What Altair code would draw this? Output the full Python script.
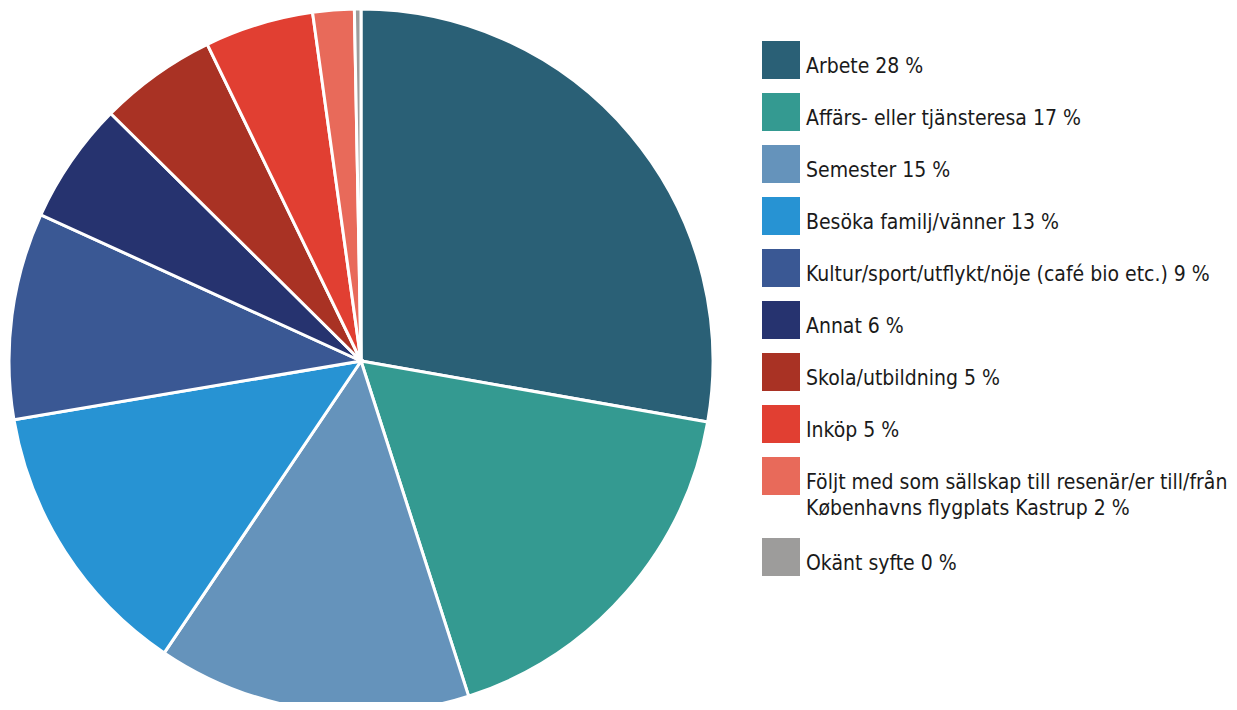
import altair as alt
import pandas as pd

categories = [
    "Arbete",
    "Affärs- eller tjänsteresa",
    "Semester",
    "Besöka familj/vänner",
    "Kultur/sport/utflykt/nöje (café bio etc.)",
    "Annat",
    "Skola/utbildning",
    "Inköp",
    "Följt med som sällskap till resenär/er till/från Københavns flygplats Kastrup",
    "Okänt syfte",
]
shares = [27.8, 17.3, 14.4, 12.9, 9.5, 5.6, 5.4, 5.0, 1.9, 0.3]
legend_labels = [
    "Arbete 28 %",
    "Affärs- eller tjänsteresa 17 %",
    "Semester 15 %",
    "Besöka familj/vänner 13 %",
    "Kultur/sport/utflykt/nöje (café bio etc.) 9 %",
    "Annat 6 %",
    "Skola/utbildning 5 %",
    "Inköp 5 %",
    "Följt med som sällskap till resenär/er till/från\nKøbenhavns flygplats Kastrup 2 %",
    "Okänt syfte 0 %",
]
colors = [
    "#2a6076", "#349a91", "#6593bb", "#2793d3", "#3a5894",
    "#26336f", "#a93224", "#e13f32", "#e86a5a", "#9d9c9b",
]

FONT = "DejaVu Sans Condensed, sans-serif"

# layout of legend rows (pixels within legend panel)
ROW = 52
EXTRA_LINE = 29
rows = []
extra = 0
for i, (cat, lab) in enumerate(zip(categories, legend_labels)):
    top = 33 + ROW * i + EXTRA_LINE * extra
    rows.append({"cat": cat, "label": lab, "order": i, "share": shares[i],
                 "sq": top + 19, "base": top + 32})
    extra += lab.count("\n")
df = pd.DataFrame(rows)

H = 694
color_scale = alt.Scale(domain=categories, range=colors)

pie = alt.Chart(df).mark_arc(outerRadius=352, stroke="white", strokeWidth=3, clip=True).encode(
    theta=alt.Theta("share:Q", stack=True),
    color=alt.Color("cat:N", scale=color_scale, legend=None),
    order=alt.Order("order:Q"),
    x=alt.value(353),
    y=alt.value(353),
).properties(width=706, height=H)

yscale = alt.Scale(domain=[H, 0])
squares = alt.Chart(df).mark_square(size=38 * 38, opacity=1, strokeWidth=0).encode(
    x=alt.value(67),
    y=alt.Y("sq:Q", scale=yscale, axis=None),
    color=alt.Color("cat:N", scale=color_scale, legend=None),
)
texts = alt.Chart(df).mark_text(
    align="left", baseline="alphabetic", font=FONT, fontSize=21,
    lineBreak="\n", lineHeight=26, color="#1a1a1a",
).encode(
    x=alt.value(92),
    y=alt.Y("base:Q", scale=yscale, axis=None),
    text="label:N",
)
legend = alt.layer(squares, texts).properties(width=515, height=H)

chart = alt.hconcat(pie, legend, spacing=0).properties(padding=0).configure_view(stroke=None)

chart.save("out.html", embed_options={"renderer": "svg", "actions": False})
